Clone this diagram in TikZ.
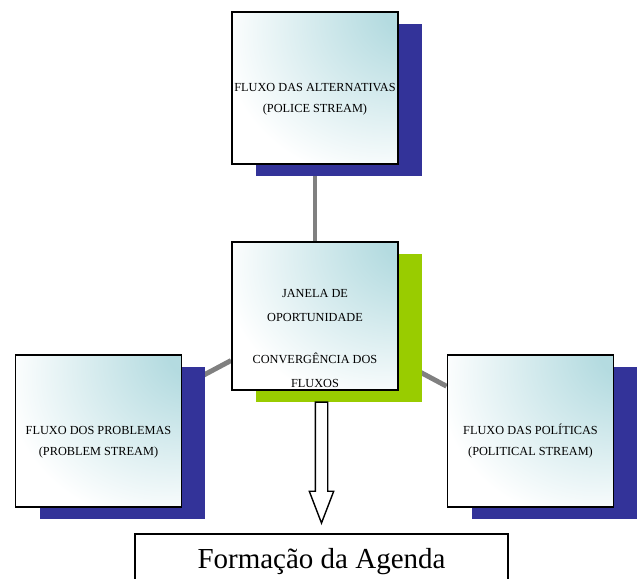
\documentclass[tikz,border=0pt]{standalone}
\usepackage{fontspec}
\setmainfont{Liberation Serif}
\usetikzlibrary{positioning,shadows,shapes.arrows,backgrounds}

\definecolor{streamblue}{RGB}{51,51,153}
\definecolor{windowgreen}{RGB}{153,204,0}
\definecolor{streamaqua}{RGB}{180,219,224}
\definecolor{linkgray}{RGB}{128,128,128}

\pgfdeclareradialshading{streamcorner}{\pgfpoint{34bp}{30bp}}{%
    color(0bp)=(streamaqua); color(10bp)=(streamaqua); color(46bp)=(white); color(100bp)=(white)}

\tikzset{
    stream/.style={draw=black, line width=1.1pt, shade, shading=streamcorner,
        minimum width=3.32cm, minimum height=3.04cm, inner sep=0pt,
        align=center, font=\fontsize{7}{12}\selectfont},
    blueshadow/.style={general shadow={fill=streamblue, shadow xshift=0.48cm, shadow yshift=-0.24cm}},
    greenshadow/.style={general shadow={fill=windowgreen, shadow xshift=0.48cm, shadow yshift=-0.24cm}},
    link/.style={draw=linkgray, line width=2.8pt},
    flowarrow/.style={single arrow, draw=black, fill=white, line width=0.8pt, rotate=-90,
        minimum height=2.42cm, inner sep=0.11cm, single arrow head extend=0.12cm,
        single arrow tip angle=42},
    agendabox/.style={draw=black, line width=1.1pt, minimum width=7.46cm, inner ysep=0.28cm,
        text depth=1cm, font=\fontsize{16.5}{20}\selectfont}
}

\begin{document}
\begin{tikzpicture}[x=0.02cm, y=-0.02cm]
    \useasboundingbox (0,0) rectangle (640,579);

    \node[stream, greenshadow, minimum height=2.96cm, font=\fontsize{7}{13.5}\selectfont] (jan) at (315,316)
        {\\[16.5pt]JANELA DE\\OPORTUNIDADE\\[10.5pt]CONVERGÊNCIA DOS\\FLUXOS};
    \node[stream, blueshadow, above=1.52cm of jan] (alt) {\\[5.5pt]FLUXO DAS ALTERNATIVAS\\(POLICE STREAM)};
    \node[stream, blueshadow] (prob) at (98.5,431) {\\[5pt]FLUXO DOS PROBLEMAS\\(PROBLEM STREAM)};
    \node[stream, blueshadow] (pol) at (530.5,431) {\\[5pt]FLUXO DAS POLÍTICAS\\(POLITICAL STREAM)};

    \node[agendabox, anchor=north] (agenda) at (321.5,533) {Formação da Agenda};
    \node[flowarrow, anchor=tip] (arrow) at ([yshift=0.16cm]agenda.north) {};

    \begin{scope}[on background layer]
        \draw[link] (alt) -- (jan);
        \draw[link] (prob) -- (jan);
        \draw[link] (pol) -- (jan);
    \end{scope}
\end{tikzpicture}
\end{document}
